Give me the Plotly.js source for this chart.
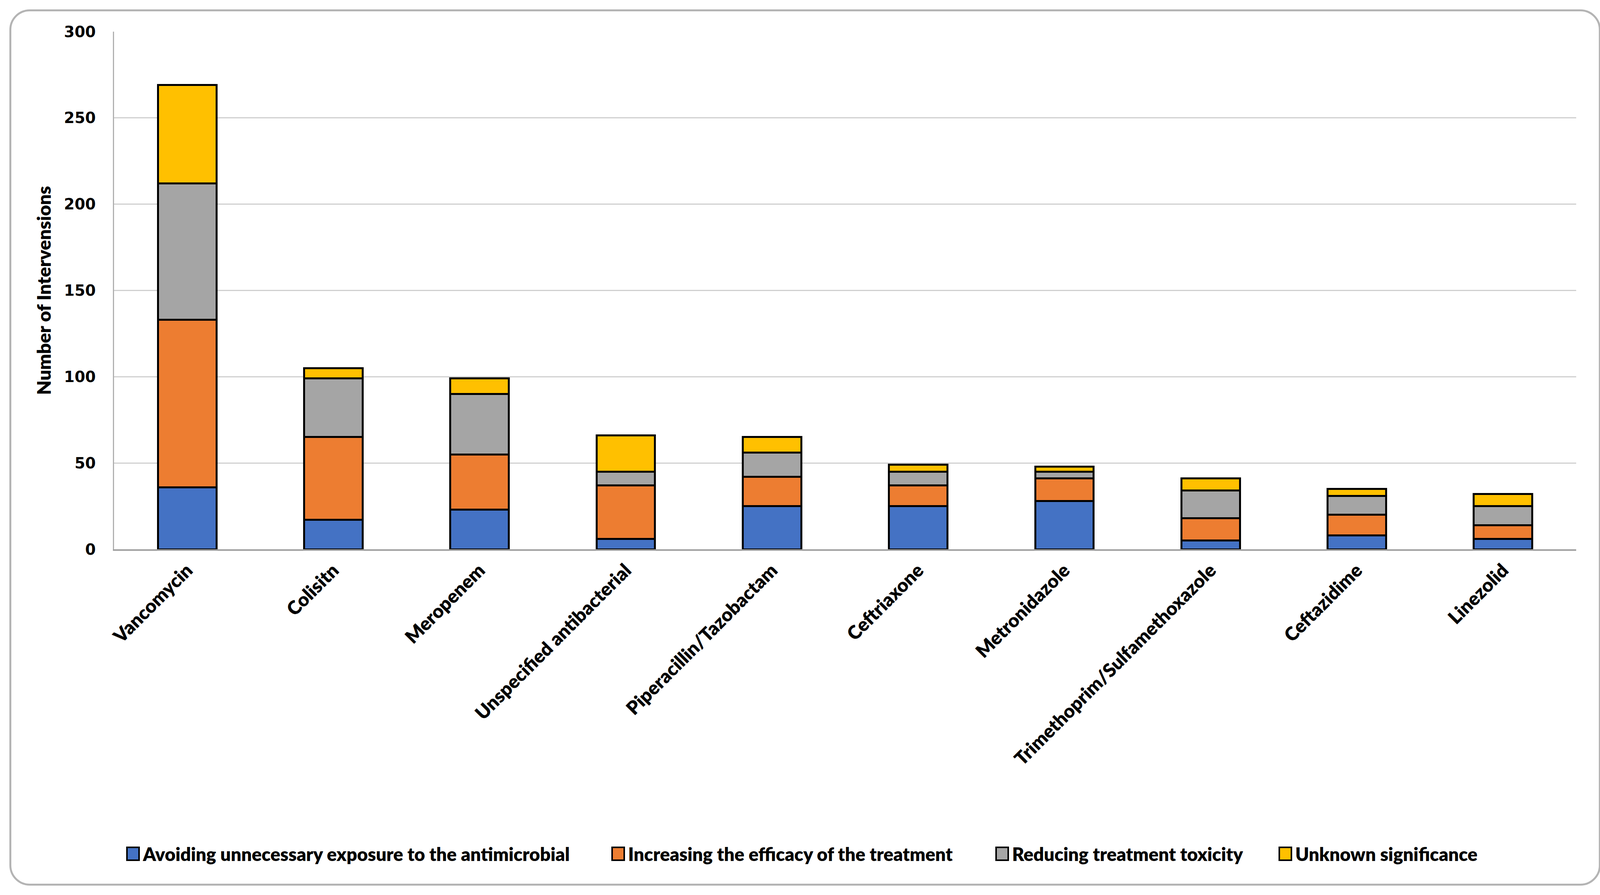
<!DOCTYPE html>
<html>
<head>
<meta charset="utf-8">
<script src="https://cdn.plot.ly/plotly-3.0.1.min.js"></script>
<style>
  html, body { margin: 0; padding: 0; background: #ffffff; }
  #frame { position: absolute; left: 24px; top: 24px; width: 4064px; height: 2233px;
           border: 5px solid #b4b4b4; border-radius: 52px; background: #ffffff; z-index: 0; }
  #chart { position: absolute; left: 0; top: 0; width: 4122px; height: 2291px; z-index: 1; }
</style>
</head>
<body>
<div id="frame"></div>
<div id="chart"></div>
<script>
// ---- Data ----
const categories = ["Vancomycin", "Colisitn", "Meropenem", "Unspecified antibacterial",
  "Piperacillin/Tazobactam", "Ceftriaxone", "Metronidazole",
  "Trimethoprim/Sulfamethoxazole", "Ceftazidime", "Linezolid"];

const seriesNames = ["Avoiding unnecessary exposure to the antimicrobial",
  "Increasing the efficacy of the treatment",
  "Reducing treatment toxicity",
  "Unknown significance"];

const avoidingExposure = [36, 17, 23, 6, 25, 25, 28, 5, 8, 6];
const increasingEfficacy = [97, 48, 32, 31, 17, 12, 13, 13, 12, 8];
const reducingToxicity = [79, 34, 35, 8, 14, 8, 4, 16, 11, 11];
const unknownSignificance = [57, 6, 9, 21, 9, 4, 3, 7, 4, 7];

const yTickValues = [0, 50, 100, 150, 200, 250, 300];

// ---- Styles ----
const colors = ["#4472C4", "#ED7D31", "#A5A5A5", "#FFC000"];
const labelFont = "Lato, 'Open Sans', 'Liberation Sans', sans-serif";
const seriesValues = [avoidingExposure, increasingEfficacy, reducingToxicity, unknownSignificance];
const legendIds = ["legend", "legend2", "legend3", "legend4"];
const legendX = [320, 1562, 2545, 3270]; // px from the left of the page

const traces = seriesValues.map((vals, i) => ({
  type: "bar",
  name: seriesNames[i],
  x: categories,
  y: vals,
  legend: legendIds[i],
  marker: { color: colors[i], line: { color: "#000000", width: 5 } },
  hoverinfo: "x+y+name"
}));

const layout = {
  width: 4122,
  height: 2291,
  barmode: "stack",
  bargap: 0.6,
  paper_bgcolor: "rgba(0,0,0,0)",
  plot_bgcolor: "rgba(0,0,0,0)",
  margin: { l: 292, r: 87, t: 81, b: 885 },
  font: { family: labelFont, color: "#000000" },
  xaxis: {
    type: "category",
    tickangle: -45,
    tickfont: { family: labelFont, size: 48, color: "#000000", weight: 800 },
    showgrid: false,
    showline: true,
    linecolor: "#a0a0a0",
    linewidth: 4,
    ticks: "",
    ticklabelstandoff: 3,
    range: [-0.5, 9.5]
  },
  yaxis: {
    range: [0, 300],
    tickvals: yTickValues,
    ticktext: yTickValues.map(String),
    tickfont: { family: "DejaVu Sans, Verdana, sans-serif", size: 39, color: "#000000", weight: "bold" },
    showgrid: true,
    gridcolor: "#d0d0d0",
    gridwidth: 3,
    showline: true,
    linecolor: "#b0b0b0",
    linewidth: 3,
    zeroline: false,
    ticks: "",
    ticklabelstandoff: 36,
    title: {
      text: "Number of Intervensions",
      font: { family: labelFont, size: 48, color: "#000000", weight: 800 },
      standoff: 18
    }
  },
  showlegend: true
};

legendIds.forEach((id, i) => {
  layout[id] = {
    orientation: "h",
    xref: "container",
    yref: "container",
    x: legendX[i] / 4122,
    xanchor: "left",
    y: 1 - 2186 / 2291,
    yanchor: "middle",
    font: { family: labelFont, size: 47, color: "#000000", weight: 800 },
    bgcolor: "rgba(0,0,0,0)",
    itemwidth: 36
  };
});

Plotly.newPlot("chart", traces, layout, { displayModeBar: false, staticPlot: true }).then(() => {
  // enlarge the legend colour boxes to resemble the reference
  document.querySelectorAll("#chart .legendpoints path").forEach(p => {
    p.setAttribute("d", "M13,16.5H-18V-16.5H13Z");
    p.style.strokeWidth = "4px";
  });
});
</script>
</body>
</html>
